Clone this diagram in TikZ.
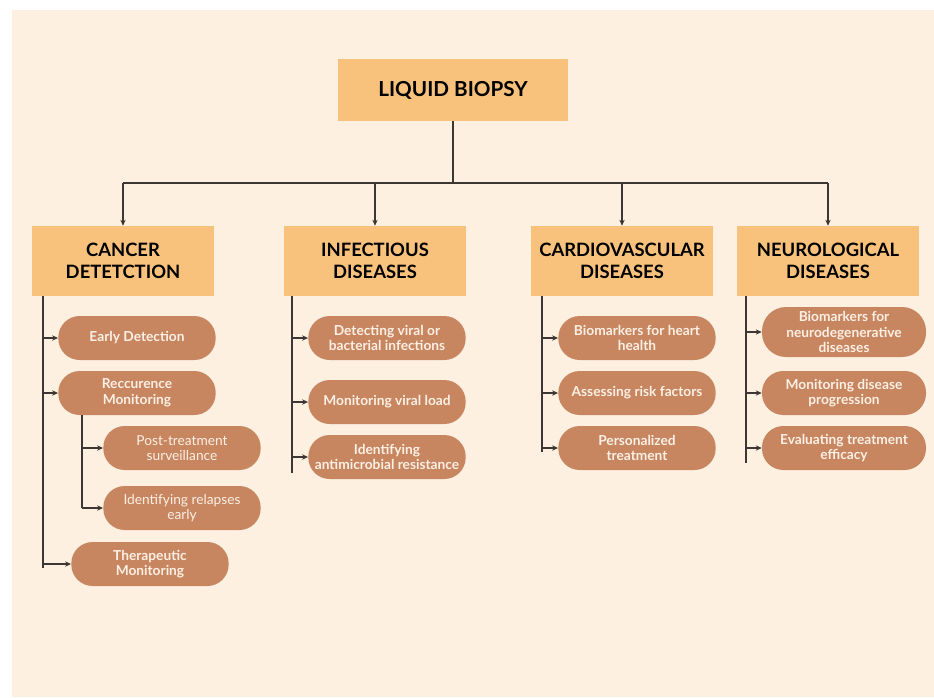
\documentclass[tikz,border=0pt]{standalone}
\usepackage{fontspec}
\setmainfont{Lato}
\usetikzlibrary{arrows.meta}
\definecolor{bgcream}{RGB}{253,240,225}
\definecolor{boxorange}{RGB}{248,193,124}
\definecolor{pillbrown}{RGB}{199,133,96}
\definecolor{pilltext}{RGB}{252,240,228}
\definecolor{linegray}{RGB}{60,55,50}
\begin{document}
\begin{tikzpicture}[x=0.75pt,y=-0.75pt,
    rootbox/.style={fill=boxorange, minimum width=173pt, minimum height=46pt, inner sep=0pt,
      font=\bfseries\fontsize{15.5}{19}\selectfont},
    topbox/.style={fill=boxorange, minimum width=137pt, minimum height=52.5pt, inner sep=0pt,
      align=center, font=\bfseries\fontsize{13.8}{17}\selectfont},
    pill/.style={fill=pillbrown, rounded corners=16pt, minimum width=118pt, minimum height=33pt,
      inner sep=0pt, align=center, text=pilltext, font=\bfseries\fontsize{10.3}{11.8}\selectfont},
    thin text/.style={font=\fontsize{10.3}{11.8}\selectfont},
    link/.style={draw=linegray, line width=0.8pt},
    arr/.style={link, -{Stealth[length=4.5pt,width=4pt]}}]
    \useasboundingbox (0,0) rectangle (934,697);
    \fill[bgcream] (12,10) rectangle (934,697);

    % root and the four fields
    \node[rootbox] (root) at (453,90) {LIQUID BIOPSY};
    \node[topbox] (cancer) at (123,261) {CANCER\\DETETCTION};
    \node[topbox] (infect) at (375,261) {INFECTIOUS\\DISEASES};
    \node[topbox] (cardio) at (622,261) {CARDIOVASCULAR\\DISEASES};
    \node[topbox] (neuro) at (828,261) {NEUROLOGICAL\\DISEASES};

    \coordinate (bus) at (453,183);
    \draw[link] (root.south) -- (bus);
    \draw[link] (cancer.north |- bus) -- (neuro.north |- bus);
    \foreach \n in {cancer,infect,cardio,neuro}
        \draw[arr] (\n.north |- bus) -- (\n.north);

    % cancer detection
    \node[pill] (early) at (137,338) {Early Detection};
    \node[pill] (recur) at (137,393) {Reccurence\\Monitoring};
    \node[pill,thin text] (posttr) at (182,448) {Post-treatment\\surveillance};
    \node[pill,thin text] (relapse) at (182,508) {Identifying relapses\\early};
    \node[pill] (thera) at (150,564) {Therapeutic\\Monitoring};
    \coordinate (cTop) at (43,296);
    \coordinate (cEnd) at (43,568);
    \draw[link] (cTop) -- (cEnd);
    \foreach \n in {early,recur,thera}
        \draw[arr] (\n.west -| cTop) -- (\n.west);
    \coordinate (rTop) at (82,415);
    \draw[link] (rTop) -- (rTop |- relapse.west);
    \foreach \n in {posttr,relapse}
        \draw[arr] (\n.west -| rTop) -- (\n.west);

    % infectious diseases
    \node[pill] (detect) at (387,338) {Detecting viral or\\bacterial infections};
    \node[pill] (viral) at (387,402) {Monitoring viral load};
    \node[pill] (amr) at (387,457) {Identifying\\antimicrobial resistance};
    \coordinate (iTop) at (292,296);
    \coordinate (iEnd) at (292,473);
    \draw[link] (iTop) -- (iEnd);
    \foreach \n in {detect,viral,amr}
        \draw[arr] (\n.west -| iTop) -- (\n.west);

    % cardiovascular diseases
    \node[pill] (heart) at (637,338) {Biomarkers for heart\\health};
    \node[pill] (risk) at (637,393) {Assessing risk factors};
    \node[pill] (person) at (637,448) {Personalized\\treatment};
    \coordinate (vTop) at (542,296);
    \coordinate (vEnd) at (542,452);
    \draw[link] (vTop) -- (vEnd);
    \foreach \n in {heart,risk,person}
        \draw[arr] (\n.west -| vTop) -- (\n.west);

    % neurological diseases
    \node[pill,minimum width=123pt,minimum height=37.5pt,rounded corners=18pt] (neurobio) at (844,332) {Biomarkers for\\neurodegenerative\\diseases};
    \node[pill,minimum width=123pt] (progress) at (844,393) {Monitoring disease\\progression};
    \node[pill,minimum width=123pt] (efficacy) at (844,448) {Evaluating treatment\\efficacy};
    \coordinate (nTop) at (746,296);
    \coordinate (nEnd) at (746,463);
    \draw[link] (nTop) -- (nEnd);
    \foreach \n in {neurobio,progress,efficacy}
        \draw[arr] (\n.west -| nTop) -- (\n.west);
\end{tikzpicture}
\end{document}
